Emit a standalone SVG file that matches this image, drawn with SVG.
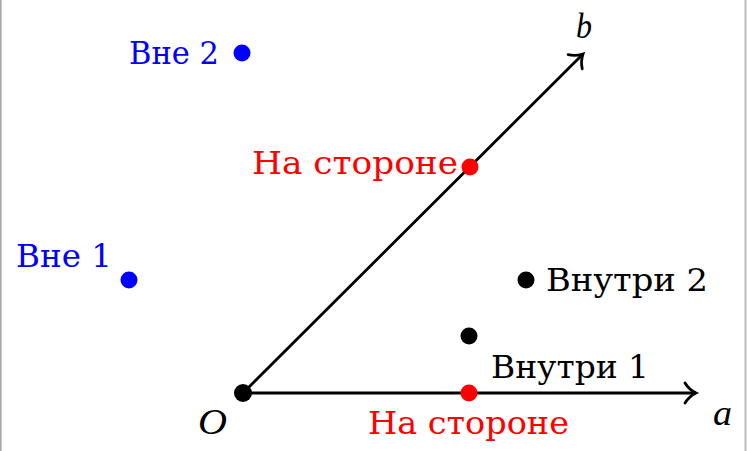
<svg xmlns="http://www.w3.org/2000/svg" width="748" height="451" viewBox="0 0 748 451">
<style>
text{font-family:"DejaVu Serif","Liberation Serif",serif;font-size:32px}
.it{font-family:"Liberation Serif","DejaVu Serif",serif;font-style:italic;font-size:36px}
.blue{fill:#0000ff}
.red{fill:#ff0000}
.blk{fill:#000}
.ax{stroke:#000;stroke-width:2.8;fill:none;marker-end:url(#to)}
</style>
<defs>
<marker id="to" markerUnits="userSpaceOnUse" viewBox="-14 -12 16 24" markerWidth="16" markerHeight="24" refX="0" refY="0" orient="auto" overflow="visible">
<path d="M-11,-10 C-8,-5 -3,-1.5 0,0 C-3,1.5 -8,5 -11,10" fill="none" stroke="#000" stroke-width="2.8" stroke-linecap="round"/>
</marker>
</defs>
<rect width="748" height="451" fill="#fff"/>
<line x1="0.8" y1="0" x2="0.8" y2="451" stroke="#aaa" stroke-width="1.6"/>
<line x1="745.5" y1="0" x2="745.5" y2="451" stroke="#bbb" stroke-width="2"/>
<g id="connectors">
<line class="ax" x1="243" y1="393" x2="696" y2="393"/>
<line class="ax" x1="243" y1="393" x2="583" y2="54"/>
</g>
<g id="O"><circle cx="243" cy="393" r="9" class="blk"/><text x="198" y="434" class="it blk" textLength="29" lengthAdjust="spacingAndGlyphs">O</text></g>
<g id="a"><text x="713" y="425" class="it blk" textLength="19" lengthAdjust="spacingAndGlyphs">a</text></g>
<g id="b"><text x="576" y="38" class="it blk" textLength="16" lengthAdjust="spacingAndGlyphs">b</text></g>
<g id="vne2"><circle cx="242" cy="53" r="8.5" class="blue"/><text x="129" y="64" class="blue" textLength="90" lengthAdjust="spacingAndGlyphs">Вне 2</text></g>
<g id="vne1"><circle cx="129" cy="280" r="8.5" class="blue"/><text x="16" y="267" class="blue" textLength="96" lengthAdjust="spacingAndGlyphs">Вне 1</text></g>
<g id="side-b"><circle cx="470" cy="167" r="8.5" class="red"/><text x="252" y="174" class="red" textLength="206" lengthAdjust="spacingAndGlyphs">На стороне</text></g>
<g id="side-a"><circle cx="469" cy="393" r="8.5" class="red"/><text x="368" y="434" class="red" textLength="201" lengthAdjust="spacingAndGlyphs">На стороне</text></g>
<g id="vnutri2"><circle cx="526" cy="280" r="8.5" class="blk"/><text x="546" y="291" class="blk" textLength="162" lengthAdjust="spacingAndGlyphs">Внутри 2</text></g>
<g id="vnutri1"><circle cx="469" cy="336" r="8.5" class="blk"/><text x="491" y="378" class="blk" textLength="158" lengthAdjust="spacingAndGlyphs">Внутри 1</text></g>
</svg>
